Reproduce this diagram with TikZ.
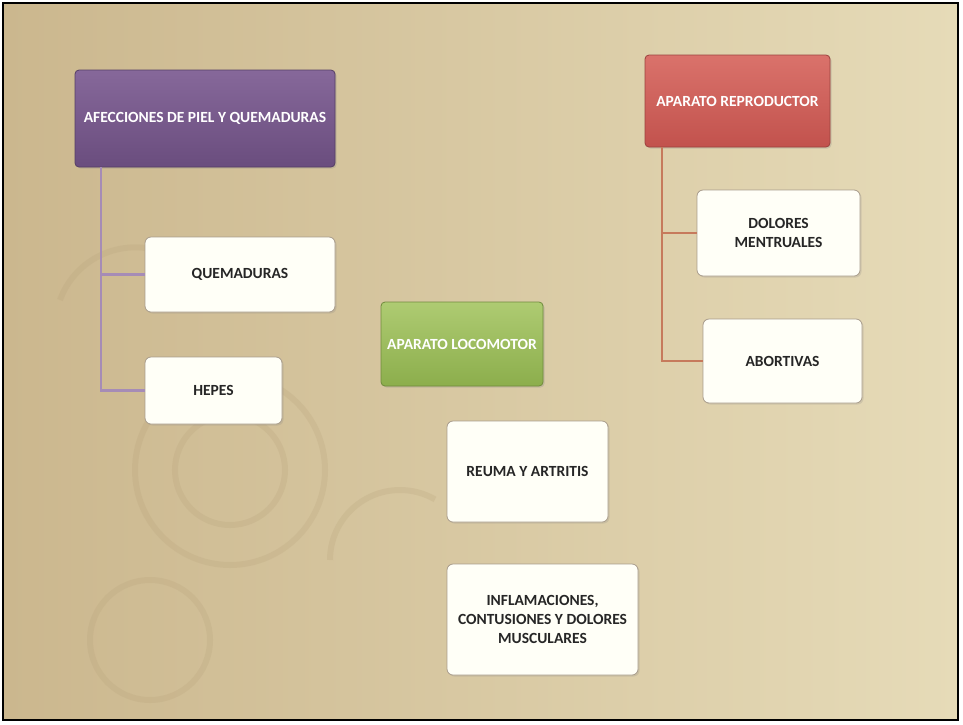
\documentclass[tikz,border=0pt]{standalone}
\usepackage{fontspec}
\setmainfont{Carlito}
\usetikzlibrary{shadows}
\definecolor{bgL}{HTML}{CBB78E}
\definecolor{bgR}{HTML}{E6DBB8}
\definecolor{purT}{HTML}{86689A}
\definecolor{purB}{HTML}{6A4D7E}
\definecolor{redT}{HTML}{DA726B}
\definecolor{redB}{HTML}{C2524D}
\definecolor{grnT}{HTML}{AECB72}
\definecolor{grnB}{HTML}{8CAE4C}
\definecolor{purLine}{HTML}{A68CB6}
\definecolor{redLine}{HTML}{C67A5C}
\definecolor{boxBorder}{HTML}{A89C8C}
\definecolor{swirl}{HTML}{B5A078}
\tikzset{
  titlebox/.style={rectangle, rounded corners=4pt, draw=#1B!80!black, line width=0.8pt,
     top color=#1T, bottom color=#1B, text=white, font=\fontsize{15.5}{19}\selectfont\bfseries,
     drop shadow={opacity=0.25, shadow xshift=1.5pt, shadow yshift=-1.5pt}, inner sep=2pt, align=center},
  itembox/.style={rectangle, rounded corners=6pt, draw=boxBorder, line width=0.8pt, fill=white!97!yellow,
     text=black!85, font=\fontsize{15.5}{19}\selectfont\bfseries, align=center,
     drop shadow={opacity=0.2, shadow xshift=1.5pt, shadow yshift=-1.5pt}, inner sep=2pt},
  purlink/.style={draw=purLine, line width=2.6pt},
  redlink/.style={draw=redLine, line width=2pt},
  frame/.style={draw=black, line width=2pt}
}
\begin{document}
\begin{tikzpicture}[x=1pt,y=-1pt]
\useasboundingbox (0,0) rectangle (963,724);
\fill[white] (0,0) rectangle (963,724);
% background parchment
\shade[left color=bgL, right color=bgR] (4,4) rectangle (958,719);
% faint swirls
\begin{scope}[draw=swirl, opacity=0.22, line width=6pt]
  \draw (230,470) circle (95);
  \draw (230,470) circle (55);
  \draw (150,640) circle (60);
  \draw (60,300) arc (200:340:80);
  \draw (330,560) arc (180:300:70);
\end{scope}
\draw[frame] (3,3) rectangle (958,720);
% left group
\node[titlebox=pur, minimum width=260, minimum height=97] (afe) at (205,118.5) {AFECCIONES DE PIEL Y QUEMADURAS};
\node[itembox, minimum width=190, minimum height=75] (que) at (240,274.5) {QUEMADURAS};
\node[itembox, minimum width=137, minimum height=67] (hep) at (213.5,390.5) {HEPES};
\coordinate (lv) at (101,167);
\draw[purlink] (afe.south -| lv) |- (hep.west);
\draw[purlink] (que.west) -- (que.west -| lv);
% middle group
\node[titlebox=grn, minimum width=162, minimum height=84] (loc) at (462,344) {APARATO LOCOMOTOR};
\node[itembox, minimum width=161, minimum height=101] (reu) at (527.5,471.5) {REUMA Y ARTRITIS};
\node[itembox, minimum width=191, minimum height=111] (inf) at (542.5,619.5) {INFLAMACIONES,\\CONTUSIONES Y DOLORES\\MUSCULARES};
% right group
\node[titlebox=red, minimum width=185, minimum height=92] (rep) at (737.5,101) {APARATO REPRODUCTOR};
\node[itembox, minimum width=163, minimum height=86] (dol) at (778.5,233) {DOLORES\\MENTRUALES};
\node[itembox, minimum width=159, minimum height=84] (abo) at (782.5,361) {ABORTIVAS};
\coordinate (rv) at (662,147);
\draw[redlink] (rep.south -| rv) |- (abo.west);
\draw[redlink] (dol.west) -- (dol.west -| rv);
\end{tikzpicture}
\end{document}
